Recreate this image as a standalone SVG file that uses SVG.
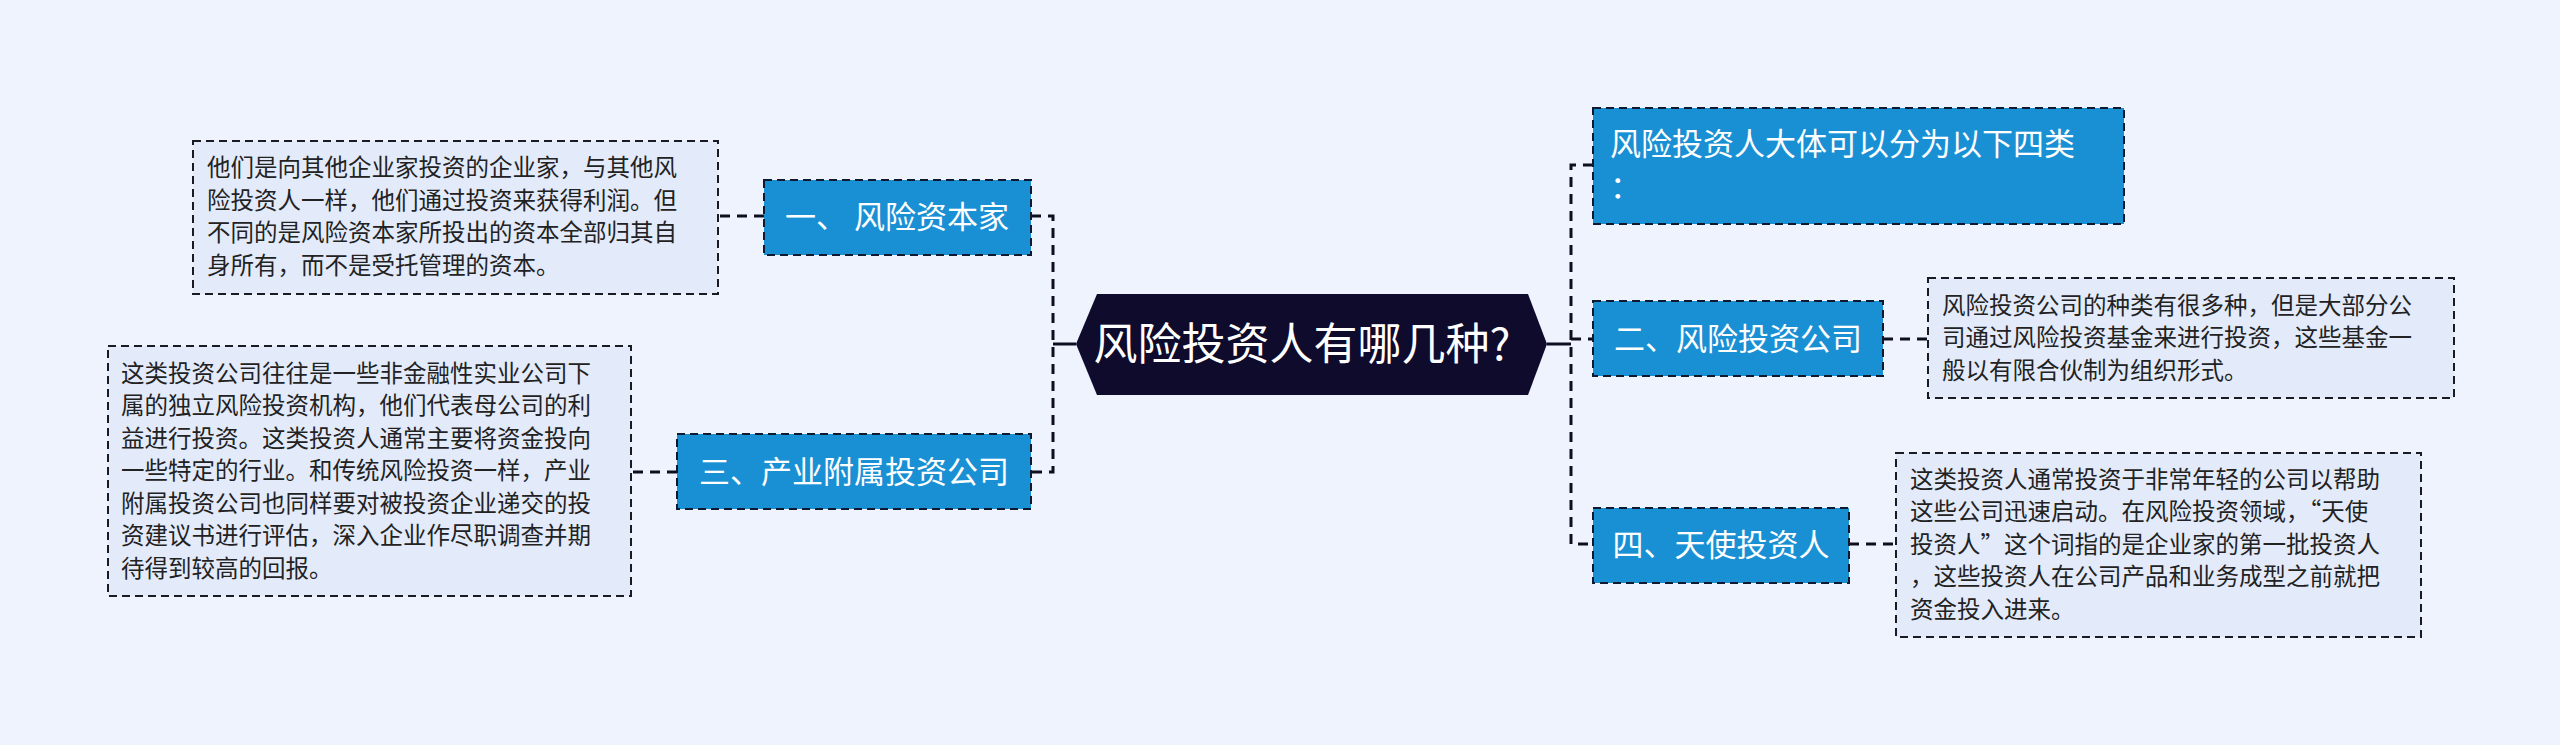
<svg xmlns="http://www.w3.org/2000/svg" width="2560" height="745" viewBox="0 0 2560 745">
<style>
.bg{fill:#eef3fd}
.node rect{fill:#1a90d4;stroke:#0e1a30;stroke-width:2;stroke-dasharray:8 5}
.node text{fill:#ffffff;font-family:"Noto Sans CJK SC","Noto Sans",sans-serif;font-size:31px}
.box rect{fill:#e3ebfb;stroke:#1a1a22;stroke-width:2;stroke-dasharray:8 5}
.box text{fill:#222222;font-family:"Noto Sans CJK SC","Noto Sans",sans-serif;font-size:23.5px}
.dash{fill:none;stroke:#0e0e20;stroke-width:3;stroke-dasharray:10 7}
.solid{fill:none;stroke:#0e0e20;stroke-width:3}
</style>
<rect class="bg" x="0" y="0" width="2560" height="745"/>
<g id="connectors">
  <path class="solid" d="M1076 344 H1053"/>
  <path class="dash" d="M1031 216 H1053 V472 H1031"/>
  <path class="solid" d="M1547 344 H1571"/>
  <path class="dash" d="M1593 165 H1571 V544 H1593"/>
  <path class="dash" d="M1571 339 H1593"/>
  <path class="dash" d="M764 216 H719"/>
  <path class="dash" d="M677 472 H631"/>
  <path class="dash" d="M1883 339 H1928"/>
  <path class="dash" d="M1849 544 H1896"/>
</g>
<g id="root">
  <polygon points="1076,344 1097,294 1528,294 1547,344 1528,395 1097,395" fill="#0e0b2c"/>
  <text x="1302" y="360" text-anchor="middle" fill="#ffffff" font-family="'Noto Sans CJK SC','Noto Sans',sans-serif" font-size="44">风险投资人有哪几种?</text>
</g>
<g id="n1" class="node">
  <rect x="764" y="180" width="267" height="75"/>
  <text x="897" y="228" text-anchor="middle">一、 风险资本家</text>
</g>
<g id="n3" class="node">
  <rect x="677" y="434" width="354" height="75"/>
  <text x="854" y="483" text-anchor="middle">三、产业附属投资公司</text>
</g>
<g id="n0" class="node">
  <rect x="1593" y="108" width="531" height="116"/>
  <text x="1610" y="155">风险投资人大体可以分为以下四类</text>
  <text x="1610" y="198">：</text>
</g>
<g id="n2" class="node">
  <rect x="1593" y="301" width="290" height="75"/>
  <text x="1738" y="350" text-anchor="middle">二、风险投资公司</text>
</g>
<g id="n4" class="node">
  <rect x="1593" y="508" width="256" height="75"/>
  <text x="1721" y="556" text-anchor="middle">四、天使投资人</text>
</g>
<g id="b1" class="box">
  <rect x="193" y="141" width="525" height="153"/>
  <text x="207" y="176">他们是向其他企业家投资的企业家，与其他风</text>
  <text x="207" y="209">险投资人一样，他们通过投资来获得利润。但</text>
  <text x="207" y="241">不同的是风险资本家所投出的资本全部归其自</text>
  <text x="207" y="274">身所有，而不是受托管理的资本。</text>
</g>
<g id="b3" class="box">
  <rect x="108" y="346" width="523" height="250"/>
  <text x="121" y="382">这类投资公司往往是一些非金融性实业公司下</text>
  <text x="121" y="414">属的独立风险投资机构，他们代表母公司的利</text>
  <text x="121" y="447">益进行投资。这类投资人通常主要将资金投向</text>
  <text x="121" y="479">一些特定的行业。和传统风险投资一样，产业</text>
  <text x="121" y="512">附属投资公司也同样要对被投资企业递交的投</text>
  <text x="121" y="544">资建议书进行评估，深入企业作尽职调查并期</text>
  <text x="121" y="577">待得到较高的回报。</text>
</g>
<g id="b2" class="box">
  <rect x="1928" y="278" width="526" height="120"/>
  <text x="1942" y="314">风险投资公司的种类有很多种，但是大部分公</text>
  <text x="1942" y="346">司通过风险投资基金来进行投资，这些基金一</text>
  <text x="1942" y="379">般以有限合伙制为组织形式。</text>
</g>
<g id="b4" class="box">
  <rect x="1896" y="453" width="525" height="184"/>
  <text x="1910" y="488">这类投资人通常投资于非常年轻的公司以帮助</text>
  <text x="1910" y="520">这些公司迅速启动。在风险投资领域，“天使</text>
  <text x="1910" y="553">投资人”这个词指的是企业家的第一批投资人</text>
  <text x="1910" y="585">，这些投资人在公司产品和业务成型之前就把</text>
  <text x="1910" y="618">资金投入进来。</text>
</g>
</svg>
